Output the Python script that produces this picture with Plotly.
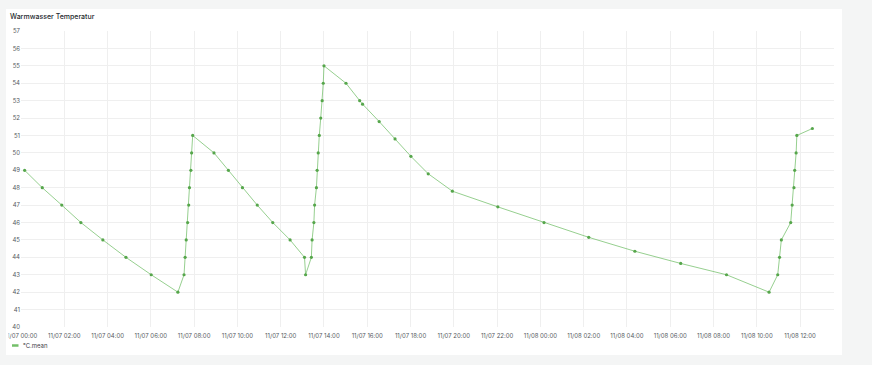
import plotly.graph_objects as go

times = [
    "2023-11-07 00:10", "2023-11-07 00:59", "2023-11-07 01:53", "2023-11-07 02:46",
    "2023-11-07 03:47", "2023-11-07 04:51", "2023-11-07 06:01", "2023-11-07 07:15",
    "2023-11-07 07:32", "2023-11-07 07:35", "2023-11-07 07:38", "2023-11-07 07:42",
    "2023-11-07 07:45", "2023-11-07 07:47", "2023-11-07 07:51", "2023-11-07 07:53",
    "2023-11-07 07:56", "2023-11-07 08:55", "2023-11-07 09:35", "2023-11-07 10:14",
    "2023-11-07 10:55", "2023-11-07 11:38", "2023-11-07 12:26", "2023-11-07 13:06",
    "2023-11-07 13:09", "2023-11-07 13:25", "2023-11-07 13:27", "2023-11-07 13:32",
    "2023-11-07 13:34", "2023-11-07 13:39", "2023-11-07 13:41", "2023-11-07 13:44",
    "2023-11-07 13:47", "2023-11-07 13:51", "2023-11-07 13:55", "2023-11-07 13:58",
    "2023-11-07 14:00", "2023-11-07 15:01", "2023-11-07 15:39", "2023-11-07 15:47",
    "2023-11-07 16:33", "2023-11-07 17:17", "2023-11-07 18:01", "2023-11-07 18:49",
    "2023-11-07 19:56", "2023-11-07 22:02", "2023-11-08 00:10", "2023-11-08 02:14",
    "2023-11-08 04:22", "2023-11-08 06:29", "2023-11-08 08:36", "2023-11-08 10:34",
    "2023-11-08 10:58", "2023-11-08 11:03", "2023-11-08 11:08", "2023-11-08 11:34",
    "2023-11-08 11:38", "2023-11-08 11:43", "2023-11-08 11:45", "2023-11-08 11:49",
    "2023-11-08 11:51", "2023-11-08 12:34",
]
temps = [
    49, 48, 47, 46, 45, 44, 43, 42,
    43, 44, 45, 46, 47, 48, 49, 50,
    51, 50, 49, 48, 47, 46, 45, 44,
    43, 44, 45, 46, 47, 48, 49, 50,
    51, 52, 53, 54, 55, 54, 53, 52.8,
    51.8, 50.8, 49.8, 48.8, 47.8, 46.9, 46.0, 45.15,
    44.35, 43.65, 43.0, 42.0, 43, 44, 45, 46,
    47, 48, 49, 50, 51, 51.4,
]
series_name = "°C.mean"
title = "Warmwasser Temperatur"
x_range = ["2023-11-07 00:00", "2023-11-08 13:34"]
y_range = [40, 57]

W, H = 872, 365
FONT = "Inter, 'Open Sans', sans-serif"
TICK = 6

fig = go.Figure()
fig.add_trace(go.Scatter(
    x=times, y=temps, mode="lines+markers", name=series_name,
    line=dict(color="rgba(115,191,105,0.75)", width=1),
    marker=dict(color="#56A64B", size=3.2),
    showlegend=False,
))

# helpers for pixel -> paper conversion
L, R, T, B = 21, 38, 31, 38
pw, ph = W - L - R, H - T - B
def px(x):
    return (x - L) / pw
def py(y):
    return 1 - (y - T) / ph

fig.add_shape(type="rect", xref="paper", yref="paper",
              x0=px(6), x1=px(842), y0=py(355), y1=py(9),
              fillcolor="white", line_width=0, layer="below")
# panel edge clips the first tick label
fig.add_shape(type="rect", xref="paper", yref="paper",
              x0=px(0), x1=px(6), y0=py(365), y1=py(0),
              fillcolor="#f4f5f5", line_width=0, layer="above")
fig.add_shape(type="rect", xref="paper", yref="paper",
              x0=px(6), x1=px(8.6), y0=py(339), y1=py(330),
              fillcolor="white", line_width=0, layer="above")
# legend marker
fig.add_shape(type="line", xref="paper", yref="paper",
              x0=px(12), x1=px(18.5), y0=py(345.5), y1=py(345.5),
              line=dict(color="#73BF69", width=2.5))
fig.add_annotation(xref="paper", yref="paper", x=px(21), y=py(345.5),
                   text=series_name, showarrow=False, xanchor="left", yanchor="middle",
                   font=dict(family=FONT, size=TICK, color="#3d4148"))
fig.add_annotation(xref="paper", yref="paper", x=px(8), y=py(16.5),
                   text=title, showarrow=False, xanchor="left", yanchor="middle",
                   font=dict(family=FONT, size=7, color="#24292e", weight=500))

fig.update_layout(
    width=W, height=H,
    margin=dict(l=L, r=R, t=T, b=B),
    paper_bgcolor="#f4f5f5", plot_bgcolor="white",
    font=dict(family=FONT, size=TICK, color="#555a61"),
    xaxis=dict(
        type="date", range=x_range, tick0="2023-11-07 00:00", dtick=7200000,
        tickformat="%m/%d %H:%M", tickangle=0, automargin=False, ticklabelstandoff=4,
        showgrid=True, gridcolor="#efefef", gridwidth=1,
        zeroline=False, showline=False, ticks="",
        tickfont=dict(family=FONT, size=TICK, color="#555a61"),
    ),
    yaxis=dict(
        range=y_range, dtick=1, automargin=False,
        showgrid=True, gridcolor="#efefef", gridwidth=1,
        zeroline=False, showline=False, ticks="",
        tickfont=dict(family=FONT, size=TICK, color="#555a61"),
    ),
)

fig.write_html("out.html")
